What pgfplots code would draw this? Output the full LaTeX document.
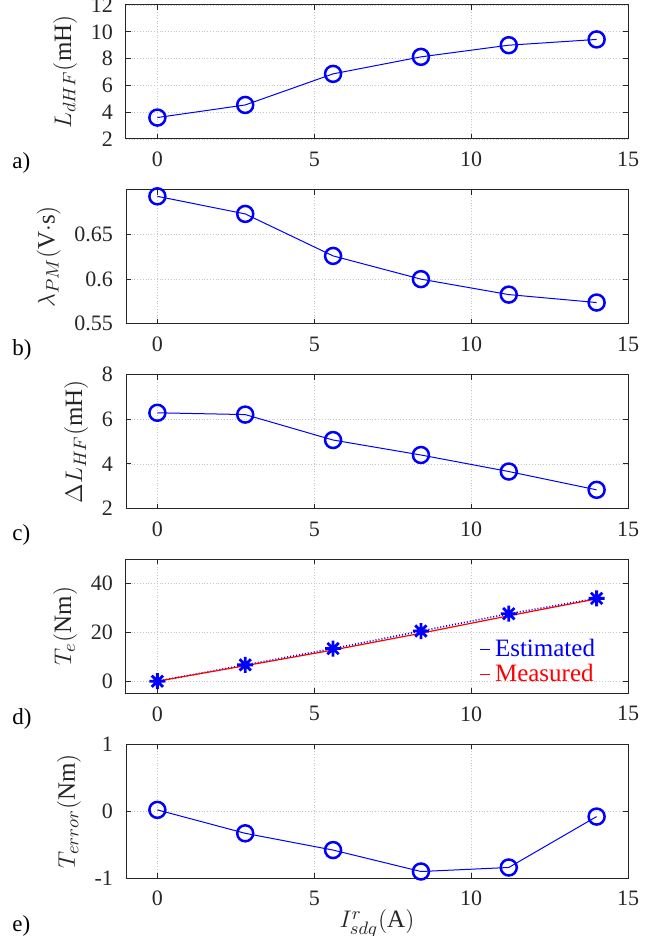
\documentclass[border=0pt]{standalone}
\usepackage{fontspec}
\setmainfont{Liberation Serif}
\usepackage{pgfplots}
\pgfplotsset{compat=1.18}
\definecolor{axgray}{rgb}{0.15,0.15,0.15}
\pgfdeclareplotmark{star8}{%
  \pgfpathmoveto{\pgfqpoint{-\pgfplotmarksize}{0pt}}\pgfpathlineto{\pgfqpoint{\pgfplotmarksize}{0pt}}%
  \pgfpathmoveto{\pgfqpoint{0pt}{-\pgfplotmarksize}}\pgfpathlineto{\pgfqpoint{0pt}{\pgfplotmarksize}}%
  \pgfpathmoveto{\pgfqpoint{-0.7071\pgfplotmarksize}{-0.7071\pgfplotmarksize}}\pgfpathlineto{\pgfqpoint{0.7071\pgfplotmarksize}{0.7071\pgfplotmarksize}}%
  \pgfpathmoveto{\pgfqpoint{-0.7071\pgfplotmarksize}{0.7071\pgfplotmarksize}}\pgfpathlineto{\pgfqpoint{0.7071\pgfplotmarksize}{-0.7071\pgfplotmarksize}}%
  \pgfusepathqstroke}
\pgfplotsset{myax/.style={
  scale only axis, width=251pt, height=67pt,
  anchor=north west,
  xmin=-1, xmax=15, xtick={0,5,10,15},
  grid=major, major grid style={densely dotted, gray!45, line width=0.4pt},
  tick align=inside, major tick length=2.5pt,
  axis line style={axgray, line width=0.5pt}, tick style={axgray, line width=0.5pt},
  ticklabel style={font=\fontsize{11}{13}\selectfont, text=axgray},
  label style={font=\fontsize{12.5}{14}\selectfont, text=axgray},
  /pgf/number format/assume math mode=true,
  xticklabel style={yshift=-3pt},
  yticklabel style={xshift=-3pt},
  every axis plot/.append style={line width=0.5pt},
}}
\tikzset{circ/.style={blue, mark=o, mark size=4pt, mark options={solid, fill=white, line width=1.25pt}}}
\begin{document}
\begin{tikzpicture}
\useasboundingbox (0,0) rectangle (328pt,-468pt);
% a
\begin{axis}[myax, name=a, at={(63pt,-2.5pt)}, ymin=2, ymax=12, ytick={2,4,6,8,10,12},
  ylabel={$L_{dHF}(\mathrm{mH})$}]
\addplot[circ] coordinates {(0,3.6) (2.8,4.54) (5.6,6.86) (8.4,8.13) (11.2,9.0) (14,9.43)};
\end{axis}
% b
\begin{axis}[myax, name=b, at={(63pt,-94.9pt)}, ymin=0.55, ymax=0.7, ytick={0.55,0.6,0.65},
  yticklabel style={/pgf/number format/fixed, /pgf/number format/precision=2},
  ylabel={$\lambda_{PM}(\mathrm{V{\cdot}s})$}]
\addplot[circ] coordinates {(0,0.6927) (2.8,0.673) (5.6,0.626) (8.4,0.600) (11.2,0.5827) (14,0.5738)};
\end{axis}
% c
\begin{axis}[myax, name=c, at={(63pt,-187.3pt)}, ymin=2, ymax=8, ytick={2,4,6,8},
  ylabel={$\Delta L_{HF}(\mathrm{mH})$}]
\addplot[circ] coordinates {(0,6.29) (2.8,6.21) (5.6,5.07) (8.4,4.40) (11.2,3.66) (14,2.84)};
\end{axis}
% d
\begin{axis}[myax, name=d, at={(63pt,-279.7pt)}, ymin=-5, ymax=50, ytick={0,20,40},
  ylabel={$T_e(\mathrm{Nm})$},
  legend style={at={(rel axis cs:0.947,0.02)}, anchor=south east, draw=none, fill=none,
    font=\fontsize{12.5}{14}\selectfont, inner sep=1pt, row sep=-2pt},
  legend cell align=left,
  legend image code/.code={\draw[#1, solid, line width=0.6pt] (0pt,0pt) -- (5pt,0pt);}]
\addplot[blue, densely dotted, line width=0.8pt, mark=star8, mark size=4pt, mark options={solid, line width=1.4pt}]
  coordinates {(0,0) (2.8,6.7) (5.6,13.4) (8.4,20.6) (11.2,27.7) (14,34.0)};
\addplot[red, line width=0.6pt] coordinates {(0,0.02) (2.8,6.37) (5.6,12.82) (8.4,19.7) (11.2,26.86) (14,33.8)};
\legend{\textcolor{blue}{Estimated},\textcolor{red}{Measured}}
\end{axis}
% e
\begin{axis}[myax, name=e, at={(63pt,-372.1pt)}, ymin=-1, ymax=1, ytick={-1,0,1},
  ylabel={$T_{error}(\mathrm{Nm})$},
  xlabel={$I_{sdq}^{r}(\mathrm{A})$}, xlabel style={yshift=5pt}]
\addplot[circ] coordinates {(0,0.02) (2.8,-0.33) (5.6,-0.58) (8.4,-0.90) (11.2,-0.84) (14,-0.08)};
\end{axis}
\foreach \n/\dy in {a/-12pt,b/-13pt,c/-13pt,d/-13pt,e/-24pt}{
  \node[anchor=west, font=\fontsize{11.5}{13}\selectfont, inner sep=0pt] at ([xshift=-57pt,yshift=\dy]\n.south west) {\n)};
}
\end{tikzpicture}
\end{document}
